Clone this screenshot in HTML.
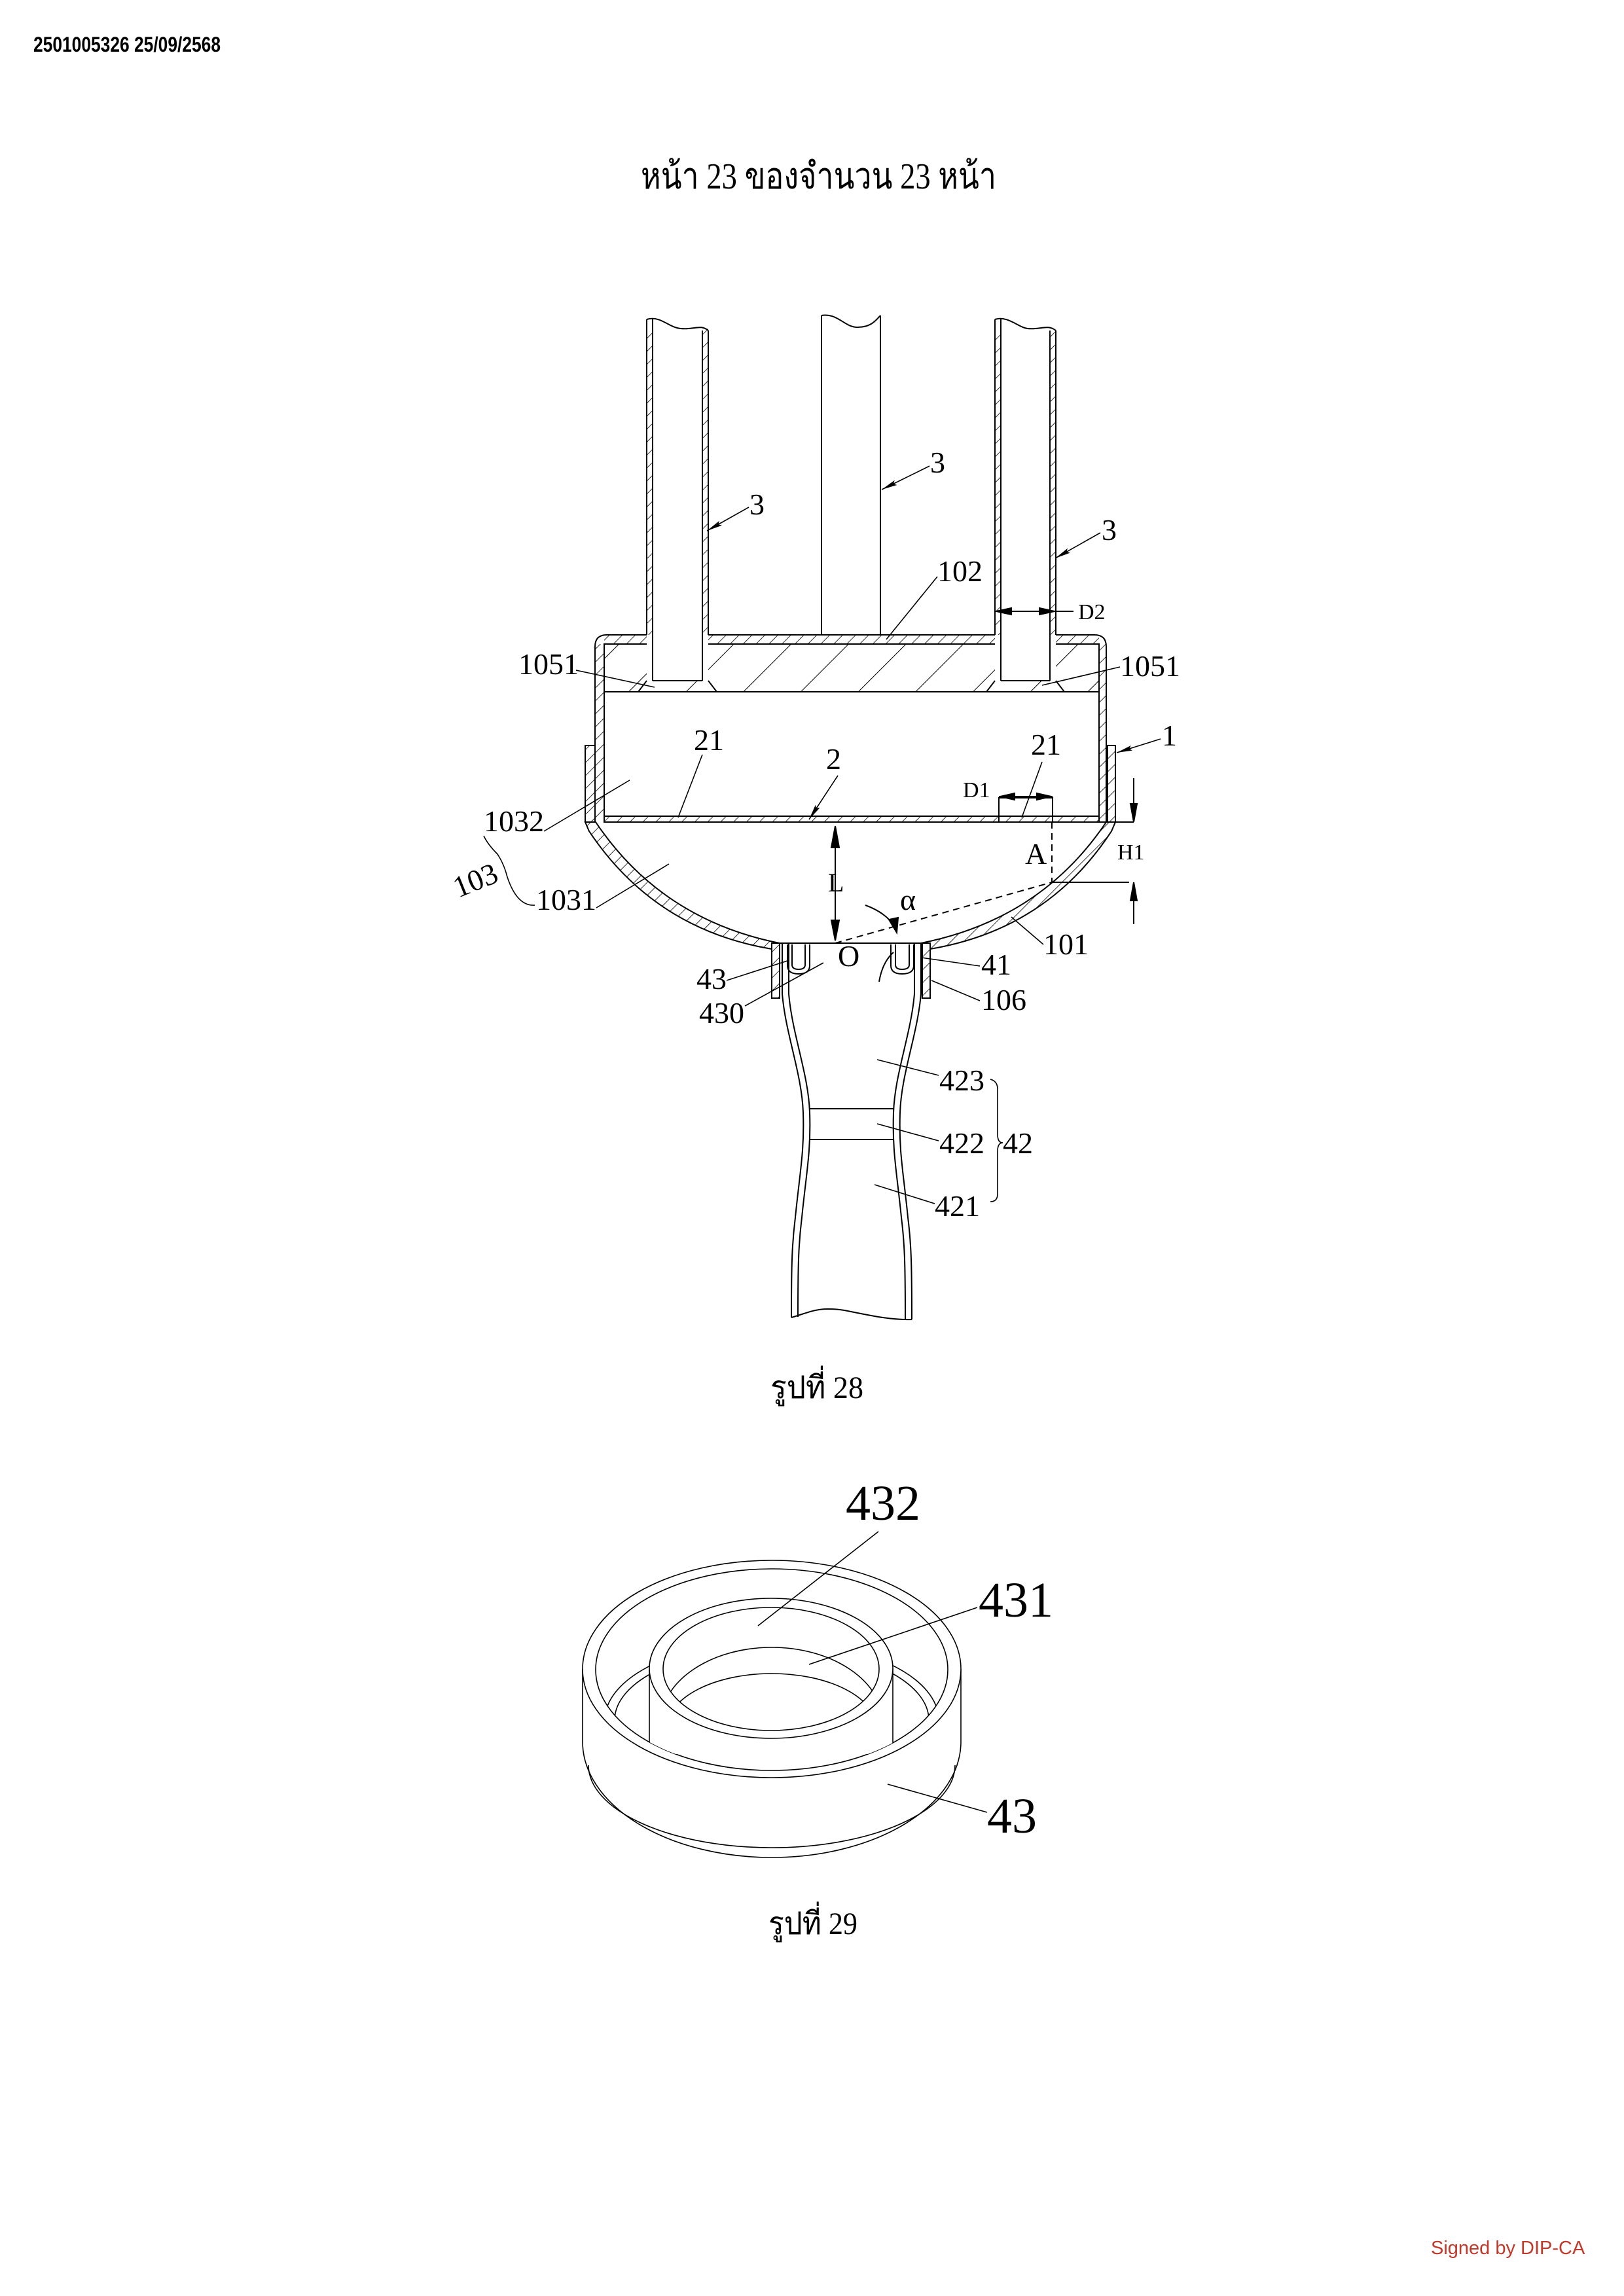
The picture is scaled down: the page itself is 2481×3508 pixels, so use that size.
<!DOCTYPE html>
<html><head><meta charset="utf-8"><style>
html,body{margin:0;padding:0;background:#fff}
svg{display:block}
text{font-family:"Liberation Serif",serif;fill:#000}
</style></head><body>
<svg width="2481" height="3508" viewBox="0 0 2481 3508" xmlns="http://www.w3.org/2000/svg">
<defs>
<pattern id="h" patternUnits="userSpaceOnUse" width="14" height="14" patternTransform="rotate(45)"><line x1="0" y1="0" x2="0" y2="14" stroke="#000" stroke-width="1.6"/></pattern>
<pattern id="hb" patternUnits="userSpaceOnUse" width="62" height="62" patternTransform="rotate(45)"><line x1="0" y1="0" x2="0" y2="62" stroke="#000" stroke-width="2"/></pattern>
<marker id="ar" markerWidth="24" markerHeight="10" refX="24" refY="5" orient="auto" markerUnits="userSpaceOnUse"><path d="M0,1 L24,5 L0,9 L4,5Z" fill="#000"/></marker>
<clipPath id="rimIn"><ellipse cx="1179" cy="2551" rx="269" ry="154"/></clipPath>
<clipPath id="tubeIn"><ellipse cx="1178" cy="2550" rx="165" ry="94"/></clipPath>
</defs>

<text x="51" y="79" font-size="32" font-weight="bold" style="font-family:'Liberation Sans',sans-serif" textLength="286" lengthAdjust="spacingAndGlyphs">2501005326 25/09/2568</text>
<text x="979" y="288" font-size="56" textLength="543" lengthAdjust="spacingAndGlyphs" style="font-family:'Liberation Serif','DejaVu Serif',serif">หน้า 23 ของจำนวน 23 หน้า</text>

<g fill="none" stroke="#000" stroke-width="2">
<rect x="988" y="500" width="9" height="470" fill="url(#h)" stroke="none"/>
<rect x="1073" y="500" width="9" height="470" fill="url(#h)" stroke="none"/>
<path d="M988,488 V970 M997,488 V1040 M1073,505 V1040 M1082,505 V970"/>
<path d="M988,488 C1010,482 1020,500 1040,502 C1060,504 1070,495 1082,505"/>
<path d="M997,1040 H1073 M988,1040 L975,1057 M1082,1040 L1095,1057"/>
<path d="M1255,482 V970 M1345,482 V970"/>
<path d="M1255,482 C1280,478 1290,500 1310,500 C1330,500 1338,490 1345,482"/>
<rect x="1520" y="500" width="9" height="470" fill="url(#h)" stroke="none"/>
<rect x="1604" y="500" width="9" height="470" fill="url(#h)" stroke="none"/>
<path d="M1520,488 V970 M1529,488 V1040 M1604,505 V1040 M1613,505 V970"/>
<path d="M1520,488 C1540,482 1555,500 1570,502 C1590,504 1600,495 1613,505"/>
<path d="M1529,1040 H1604 M1520,1040 L1507,1057 M1613,1040 L1626,1057"/>
<path d="M909,1256 V988 Q909,970 927,970 H988 M1082,970 H1520 M1613,970 H1672 Q1690,970 1690,988 V1256" />
<path d="M923,1256 V984 H988 M1082,984 H1520 M1613,984 H1679 V1256"/>
<rect x="909" y="984" width="14" height="272" fill="url(#h)" stroke="none"/>
<rect x="1679" y="984" width="11" height="272" fill="url(#h)" stroke="none"/>
<rect x="1082" y="970" width="438" height="14" fill="url(#h)" stroke="none"/>
<rect x="923" y="970" width="65" height="14" fill="url(#h)" stroke="none"/>
<rect x="1613" y="970" width="66" height="14" fill="url(#h)" stroke="none"/>
<path d="M923,984 H988 V1040 H1082 V984 H1520 V1040 H1613 V984 H1679 V1057 H923Z" fill="url(#hb)" stroke="none"/>
<path d="M923,1057 H1679"/>
<rect x="894" y="1139" width="15" height="117" fill="url(#h)"/>
<rect x="1692" y="1139" width="12" height="117" fill="url(#h)"/>
<rect x="923" y="1247" width="756" height="9" fill="url(#h)"/>
<path d="M1526,1256 V1219 H1608 V1256" />
<path d="M894,1256 L900,1270 Q1000,1420 1179,1450 L1179,1441 L1191,1441 Q1010,1405 910,1256Z" fill="url(#h)"/>
<path d="M1704,1256 L1698,1270 Q1600,1420 1421,1450 L1421,1441 L1407,1441 Q1590,1405 1690,1256Z" fill="url(#h)"/>
<rect x="1179" y="1441" width="12" height="84" fill="url(#h)"/>
<rect x="1409" y="1441" width="12" height="84" fill="url(#h)"/>
<path d="M1191,1441 H1407"/>
<path d="M1203,1443 V1475 Q1203,1488 1220,1488 Q1237,1488 1237,1475 V1443 M1210,1443 V1474 Q1210,1481 1220,1481 Q1230,1481 1230,1474 V1443"/>
<path d="M1361,1443 V1475 Q1361,1488 1378,1488 Q1396,1488 1396,1475 V1443 M1368,1443 V1474 Q1368,1481 1378,1481 Q1389,1481 1389,1474 V1443"/>
<path d="M1195,1441 V1518 C1200,1580 1225,1640 1227,1700 C1229,1760 1222,1790 1215,1860 C1210,1900 1209,1930 1209,2013"/>
<path d="M1205,1441 V1518 C1210,1580 1235,1640 1237,1700 C1239,1760 1232,1790 1225,1860 C1220,1900 1219,1930 1219,2012"/>
<path d="M1407,1441 V1518 C1402,1580 1377,1640 1375,1700 C1373,1760 1380,1790 1387,1860 C1392,1900 1393,1930 1393,2016"/>
<path d="M1397,1441 V1518 C1392,1580 1367,1640 1365,1700 C1363,1760 1370,1790 1377,1860 C1382,1900 1383,1930 1383,2016"/>
<path d="M1209,2013 C1240,2004 1250,1996 1290,2002 C1330,2010 1360,2017 1393,2016"/>
<path d="M1237,1694 H1365 M1237,1741 H1365"/>
<path d="M1276,1441 L1607,1348 M1607,1256 V1348" stroke-dasharray="10,7"/>
<path d="M1276,1290 V1410" />
<path d="M1276,1262 L1270,1295 L1282,1295Z M1276,1437 L1270,1406 L1282,1406Z" fill="#000"/>
<path d="M1679,1256 H1732 M1607,1348 H1725 M1732,1189 V1256 M1732,1348 V1412"/>
<path d="M1732,1256 L1727,1228 L1737,1228Z M1732,1348 L1727,1376 L1737,1376Z" fill="#000"/>
<path d="M1322,1383 Q1355,1395 1368,1418"/>
<path d="M1370,1425 L1358,1405 L1372,1402Z" fill="#000"/>
<path d="M1343,1500 Q1348,1470 1365,1455"/>
<path d="M1520,934 H1640 M1526,1217 H1608"/>
<path d="M1522,934 L1545,929 L1545,939Z M1611,934 L1588,929 L1588,939Z M1528,1217 L1550,1212 L1550,1222Z M1606,1217 L1584,1212 L1584,1222Z" fill="#000"/>
<g stroke-width="1.6">
<path d="M1144,775 L1080,811" marker-end="url(#ar)"/>
<path d="M1420,712 L1347,748" marker-end="url(#ar)"/>
<path d="M1681,814 L1612,853" marker-end="url(#ar)"/>
<path d="M1773,1129 L1706,1150" marker-end="url(#ar)"/>
<path d="M1280,1185 L1236,1252" marker-end="url(#ar)"/>
<path d="M1432,881 L1354,977 M880,1024 L1000,1050 M1711,1019 L1592,1047 M1073,1153 L1036,1249 M1592,1164 L1561,1249 M831,1270 L962,1192 M911,1387 L1022,1320 M1594,1443 L1545,1401"/>
<path d="M1110,1498 L1203,1468 M1138,1537 L1258,1471 M1497,1476 L1407,1463 M1497,1529 L1423,1498 M1434,1643 L1340,1619 M1434,1743 L1340,1717 M1428,1839 L1336,1810"/>
<path d="M739,1277 Q745,1290 760,1305 Q770,1320 775,1340 Q790,1385 817,1383"/>
<path d="M1513,1649 Q1524,1652 1524,1664 V1733 Q1524,1746 1532,1746 Q1524,1746 1524,1759 V1824 Q1524,1836 1513,1836"/>
</g>
</g>

<g font-size="46">
<text x="1145" y="786">3</text>
<text x="1421" y="722">3</text>
<text x="1683" y="825">3</text>
<text x="1432" y="888">102</text>
<text x="1647" y="946" font-size="34">D2</text>
<text x="792" y="1030">1051</text>
<text x="1711" y="1033">1051</text>
<text x="1775" y="1139">1</text>
<text x="1060" y="1146">21</text>
<text x="1262" y="1175">2</text>
<text x="1575" y="1153">21</text>
<text x="1471" y="1218" font-size="34">D1</text>
<text x="739" y="1270">1032</text>
<text x="819" y="1390">1031</text>
<text x="700" y="1372" transform="rotate(-22 700 1372)">103</text>
<text x="1265" y="1362" font-size="40">L</text>
<text x="1566" y="1320">A</text>
<text x="1707" y="1313" font-size="34">H1</text>
<text x="1375" y="1390">α</text>
<text x="1280" y="1476">O</text>
<text x="1594" y="1458">101</text>
<text x="1064" y="1511">43</text>
<text x="1068" y="1563">430</text>
<text x="1499" y="1489">41</text>
<text x="1499" y="1543">106</text>
<text x="1435" y="1666">423</text>
<text x="1435" y="1762">422</text>
<text x="1428" y="1858">421</text>
<text x="1532" y="1762">42</text>
</g>
<text x="1177" y="2136" font-size="48" textLength="142" lengthAdjust="spacingAndGlyphs" style="font-family:'Liberation Serif','DejaVu Serif',serif">รูปที่ 28</text>

<g fill="none" stroke="#000" stroke-width="1.6">
<path d="M890,2550 V2661 A289,177 0 0 0 1468,2661 V2550"/>
<path d="M899,2697 A280,126 0 0 0 1459,2697"/>
<ellipse cx="1179" cy="2550" rx="289" ry="166" fill="#fff"/>
<ellipse cx="1179" cy="2551" rx="269" ry="154"/>
<g clip-path="url(#rimIn)">
<ellipse cx="1179" cy="2628" rx="255" ry="121"/>
<ellipse cx="1179" cy="2628" rx="240" ry="111"/>
<path d="M992,2549 V2680 H1364 V2549Z" fill="#fff" stroke="none"/>
<path d="M992,2549 V2665 Q998,2675 1020,2690 M1364,2549 V2665 Q1358,2675 1336,2690"/>
</g>
<ellipse cx="1178" cy="2549" rx="186" ry="107" fill="#fff"/>
<ellipse cx="1178" cy="2550" rx="165" ry="94"/>
<g clip-path="url(#tubeIn)">
<ellipse cx="1179" cy="2633" rx="170" ry="116"/>
<ellipse cx="1179" cy="2640" rx="160" ry="83"/>
</g>
<path d="M1342,2340 L1158,2484 M1493,2456 L1236,2543 M1508,2769 L1356,2726"/>
</g>
<text x="1292" y="2322" font-size="76">432</text>
<text x="1495" y="2470" font-size="76">431</text>
<text x="1508" y="2800" font-size="76">43</text>
<text x="1174" y="2955" font-size="48" textLength="136" lengthAdjust="spacingAndGlyphs" style="font-family:'Liberation Serif','DejaVu Serif',serif">รูปที่ 29</text>

<text x="2186" y="3444" font-size="29" style="font-family:'Liberation Sans',sans-serif;fill:#c0392b">Signed by DIP-CA</text>
</svg>
</body></html>
